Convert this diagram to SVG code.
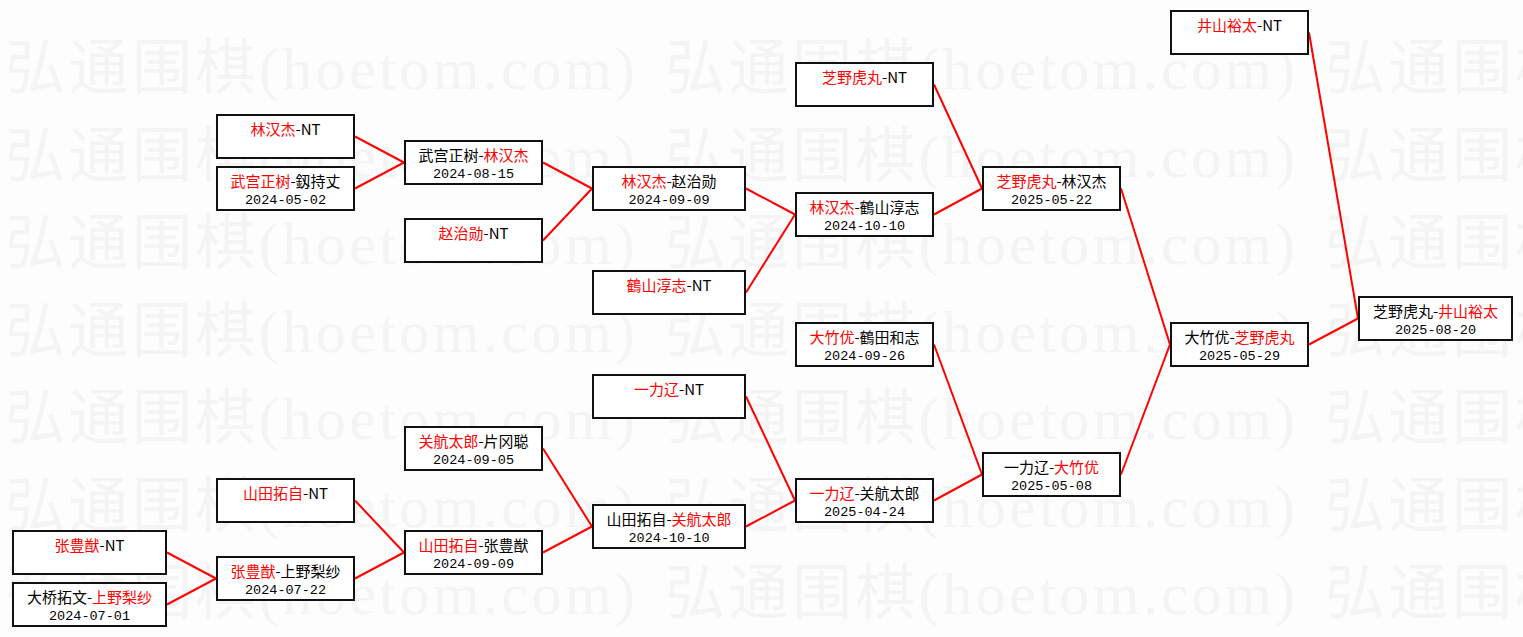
<svg xmlns="http://www.w3.org/2000/svg" width="1523" height="637" viewBox="0 0 1523 637">
<style>
.bg{fill:#fdfdfd}
.wm{fill:#f4f4f4;font-family:"Liberation Serif","Noto Sans CJK SC",serif;font-size:60px}
.box{fill:#ffffff;stroke:#111111;stroke-width:2}
.nm{font-family:"Noto Sans CJK SC",sans-serif;font-size:15px;fill:#000000;text-anchor:middle}
.dt{font-family:"Liberation Mono","Noto Sans CJK SC",monospace;font-size:13.5px;fill:#000000;text-anchor:middle}
.w{fill:#ff0000}
.cn line{stroke:#ff0000;stroke-width:2;fill:none}
</style>
<rect class="bg" x="0" y="0" width="1523" height="637"/>
<g id="watermark">
<text class="wm" x="5" y="89" textLength="630" lengthAdjust="spacing">弘通围棋(hoetom.com)</text>
<text class="wm" x="665" y="89" textLength="630" lengthAdjust="spacing">弘通围棋(hoetom.com)</text>
<text class="wm" x="1325" y="89" textLength="630" lengthAdjust="spacing">弘通围棋(hoetom.com)</text>
<text class="wm" x="5" y="176.5" textLength="630" lengthAdjust="spacing">弘通围棋(hoetom.com)</text>
<text class="wm" x="665" y="176.5" textLength="630" lengthAdjust="spacing">弘通围棋(hoetom.com)</text>
<text class="wm" x="1325" y="176.5" textLength="630" lengthAdjust="spacing">弘通围棋(hoetom.com)</text>
<text class="wm" x="5" y="264" textLength="630" lengthAdjust="spacing">弘通围棋(hoetom.com)</text>
<text class="wm" x="665" y="264" textLength="630" lengthAdjust="spacing">弘通围棋(hoetom.com)</text>
<text class="wm" x="1325" y="264" textLength="630" lengthAdjust="spacing">弘通围棋(hoetom.com)</text>
<text class="wm" x="5" y="351.5" textLength="630" lengthAdjust="spacing">弘通围棋(hoetom.com)</text>
<text class="wm" x="665" y="351.5" textLength="630" lengthAdjust="spacing">弘通围棋(hoetom.com)</text>
<text class="wm" x="1325" y="351.5" textLength="630" lengthAdjust="spacing">弘通围棋(hoetom.com)</text>
<text class="wm" x="5" y="439" textLength="630" lengthAdjust="spacing">弘通围棋(hoetom.com)</text>
<text class="wm" x="665" y="439" textLength="630" lengthAdjust="spacing">弘通围棋(hoetom.com)</text>
<text class="wm" x="1325" y="439" textLength="630" lengthAdjust="spacing">弘通围棋(hoetom.com)</text>
<text class="wm" x="5" y="526.5" textLength="630" lengthAdjust="spacing">弘通围棋(hoetom.com)</text>
<text class="wm" x="665" y="526.5" textLength="630" lengthAdjust="spacing">弘通围棋(hoetom.com)</text>
<text class="wm" x="1325" y="526.5" textLength="630" lengthAdjust="spacing">弘通围棋(hoetom.com)</text>
<text class="wm" x="5" y="614" textLength="630" lengthAdjust="spacing">弘通围棋(hoetom.com)</text>
<text class="wm" x="665" y="614" textLength="630" lengthAdjust="spacing">弘通围棋(hoetom.com)</text>
<text class="wm" x="1325" y="614" textLength="630" lengthAdjust="spacing">弘通围棋(hoetom.com)</text>
</g>
<g id="connectors" class="cn">
<line x1="167" y1="552.5" x2="216" y2="578.5"/>
<line x1="167" y1="604.5" x2="216" y2="578.5"/>
<line x1="355" y1="136.5" x2="404" y2="162.5"/>
<line x1="355" y1="188.5" x2="404" y2="162.5"/>
<line x1="355" y1="500.5" x2="404" y2="552.5"/>
<line x1="355" y1="578.5" x2="404" y2="552.5"/>
<line x1="543" y1="162.5" x2="592" y2="188.5"/>
<line x1="543" y1="240.5" x2="592" y2="188.5"/>
<line x1="543" y1="448.5" x2="592" y2="526.5"/>
<line x1="543" y1="552.5" x2="592" y2="526.5"/>
<line x1="746" y1="188.5" x2="795" y2="214.5"/>
<line x1="746" y1="292.5" x2="795" y2="214.5"/>
<line x1="746" y1="396.5" x2="795" y2="500.5"/>
<line x1="746" y1="526.5" x2="795" y2="500.5"/>
<line x1="934" y1="84.5" x2="982" y2="188.5"/>
<line x1="934" y1="214.5" x2="982" y2="188.5"/>
<line x1="934" y1="344.5" x2="982" y2="474.5"/>
<line x1="934" y1="500.5" x2="982" y2="474.5"/>
<line x1="1121" y1="188.5" x2="1170" y2="344.5"/>
<line x1="1121" y1="474.5" x2="1170" y2="344.5"/>
<line x1="1309" y1="32.5" x2="1358" y2="318.5"/>
<line x1="1309" y1="344.5" x2="1358" y2="318.5"/>
</g>
<g id="n-z1"><rect class="box" x="13" y="531" width="153" height="43"/><text class="nm" x="89.5" y="551"><tspan class="w">张豊猷</tspan>-NT</text></g>
<g id="n-z2"><rect class="box" x="13" y="583" width="153" height="43"/><text class="nm" x="89.5" y="603">大桥拓文-<tspan class="w">上野梨纱</tspan></text><text class="dt" x="89.5" y="620">2024-07-01</text></g>
<g id="n-a1"><rect class="box" x="217" y="115" width="137" height="43"/><text class="nm" x="285.5" y="135"><tspan class="w">林汉杰</tspan>-NT</text></g>
<g id="n-a2"><rect class="box" x="217" y="167" width="137" height="43"/><text class="nm" x="285.5" y="187"><tspan class="w">武宫正树</tspan>-釼持丈</text><text class="dt" x="285.5" y="204">2024-05-02</text></g>
<g id="n-a3"><rect class="box" x="217" y="479" width="137" height="43"/><text class="nm" x="285.5" y="499"><tspan class="w">山田拓自</tspan>-NT</text></g>
<g id="n-a4"><rect class="box" x="217" y="557" width="137" height="43"/><text class="nm" x="285.5" y="577"><tspan class="w">张豊猷</tspan>-上野梨纱</text><text class="dt" x="285.5" y="594">2024-07-22</text></g>
<g id="n-b1"><rect class="box" x="405" y="141" width="137" height="43"/><text class="nm" x="473.5" y="161">武宫正树-<tspan class="w">林汉杰</tspan></text><text class="dt" x="473.5" y="178">2024-08-15</text></g>
<g id="n-b2"><rect class="box" x="405" y="219" width="137" height="43"/><text class="nm" x="473.5" y="239"><tspan class="w">赵治勋</tspan>-NT</text></g>
<g id="n-b3"><rect class="box" x="405" y="427" width="137" height="43"/><text class="nm" x="473.5" y="447"><tspan class="w">关航太郎</tspan>-片冈聪</text><text class="dt" x="473.5" y="464">2024-09-05</text></g>
<g id="n-b4"><rect class="box" x="405" y="531" width="137" height="43"/><text class="nm" x="473.5" y="551"><tspan class="w">山田拓自</tspan>-张豊猷</text><text class="dt" x="473.5" y="568">2024-09-09</text></g>
<g id="n-c1"><rect class="box" x="593" y="167" width="152" height="43"/><text class="nm" x="669" y="187"><tspan class="w">林汉杰</tspan>-赵治勋</text><text class="dt" x="669" y="204">2024-09-09</text></g>
<g id="n-c2"><rect class="box" x="593" y="271" width="152" height="43"/><text class="nm" x="669" y="291"><tspan class="w">鶴山淳志</tspan>-NT</text></g>
<g id="n-c3"><rect class="box" x="593" y="375" width="152" height="43"/><text class="nm" x="669" y="395"><tspan class="w">一力辽</tspan>-NT</text></g>
<g id="n-c4"><rect class="box" x="593" y="505" width="152" height="43"/><text class="nm" x="669" y="525">山田拓自-<tspan class="w">关航太郎</tspan></text><text class="dt" x="669" y="542">2024-10-10</text></g>
<g id="n-d1"><rect class="box" x="796" y="63" width="137" height="43"/><text class="nm" x="864.5" y="83"><tspan class="w">芝野虎丸</tspan>-NT</text></g>
<g id="n-d2"><rect class="box" x="796" y="193" width="137" height="43"/><text class="nm" x="864.5" y="213"><tspan class="w">林汉杰</tspan>-鶴山淳志</text><text class="dt" x="864.5" y="230">2024-10-10</text></g>
<g id="n-d3"><rect class="box" x="796" y="323" width="137" height="43"/><text class="nm" x="864.5" y="343"><tspan class="w">大竹优</tspan>-鶴田和志</text><text class="dt" x="864.5" y="360">2024-09-26</text></g>
<g id="n-d4"><rect class="box" x="796" y="479" width="137" height="43"/><text class="nm" x="864.5" y="499"><tspan class="w">一力辽</tspan>-关航太郎</text><text class="dt" x="864.5" y="516">2025-04-24</text></g>
<g id="n-e1"><rect class="box" x="983" y="167" width="137" height="43"/><text class="nm" x="1051.5" y="187"><tspan class="w">芝野虎丸</tspan>-林汉杰</text><text class="dt" x="1051.5" y="204">2025-05-22</text></g>
<g id="n-e2"><rect class="box" x="983" y="453" width="137" height="43"/><text class="nm" x="1051.5" y="473">一力辽-<tspan class="w">大竹优</tspan></text><text class="dt" x="1051.5" y="490">2025-05-08</text></g>
<g id="n-f1"><rect class="box" x="1171" y="11" width="137" height="43"/><text class="nm" x="1239.5" y="31"><tspan class="w">井山裕太</tspan>-NT</text></g>
<g id="n-f2"><rect class="box" x="1171" y="323" width="137" height="43"/><text class="nm" x="1239.5" y="343">大竹优-<tspan class="w">芝野虎丸</tspan></text><text class="dt" x="1239.5" y="360">2025-05-29</text></g>
<g id="n-g1"><rect class="box" x="1359" y="297" width="153" height="43"/><text class="nm" x="1435.5" y="317">芝野虎丸-<tspan class="w">井山裕太</tspan></text><text class="dt" x="1435.5" y="334">2025-08-20</text></g>
</svg>
